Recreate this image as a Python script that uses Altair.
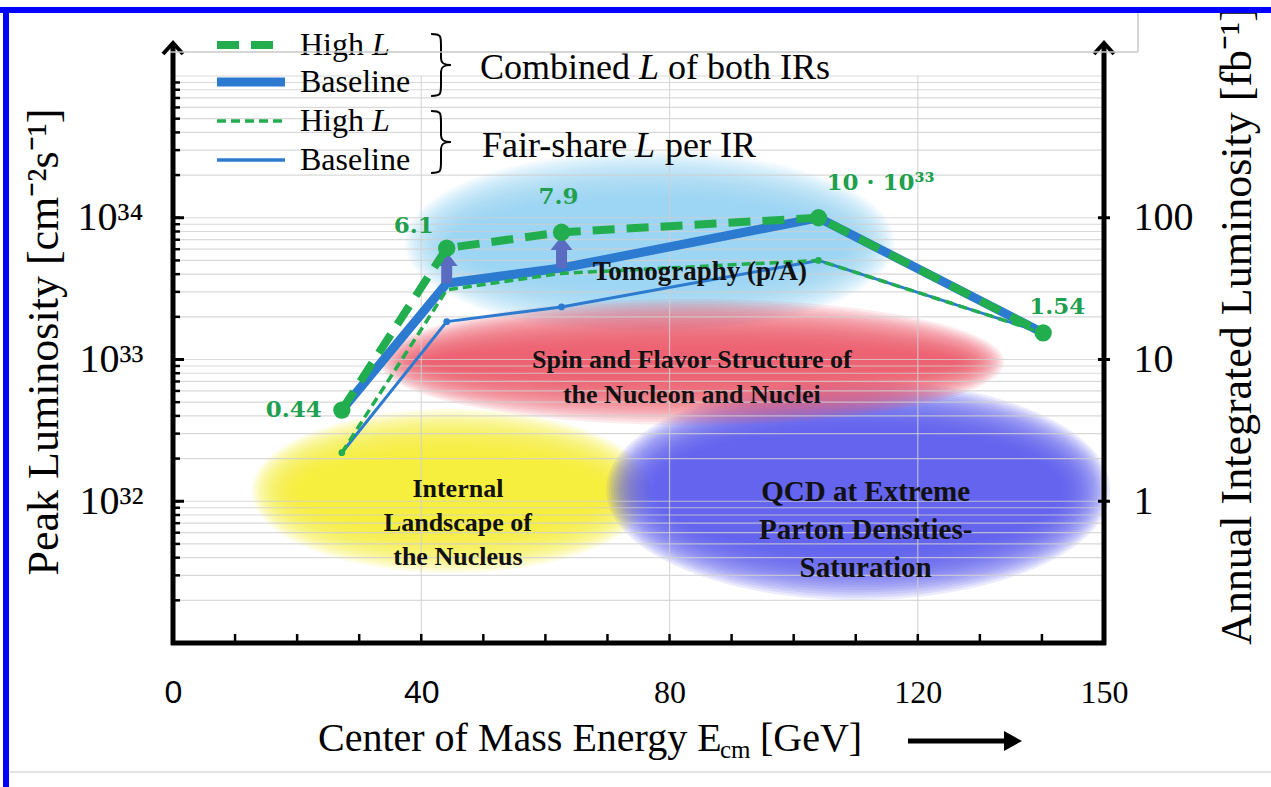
import altair as alt
import pandas as pd

# ---------------- data ----------------
energy = [27.2, 44.1, 62.6, 104.0, 140.2]                 # E_cm [GeV]
high_combined = [0.44e33, 6.1e33, 7.9e33, 10.0e33, 1.54e33]
base_combined = [0.44e33, 3.45e33, 4.42e33, 10.0e33, 1.54e33]
high_per_ir = [2.2e32, 3.1e33, 4.05e33, 5.0e33, 1.54e33]
base_per_ir = [2.2e32, 1.85e33, 2.35e33, 5.0e33, 1.54e33]
point_labels = ["0.44", "6.1", "7.9", "10 · 10³³", "1.54"]
arrow_points = [1, 2]

x_label_values = [0, 40, 80, 120, 150]
x_minor_ticks = [10, 20, 30, 40, 50, 60, 70, 80, 90, 100, 110, 120, 130, 140]
x_grid_values = [40, 80, 120]
y_label_values = [1e32, 1e33, 1e34]
y_grid_values = [k * 10.0 ** d for d in (31, 32, 33, 34) for k in range(2, 10)] + [1e32, 1e33, 1e34, 1e35]
right_label_values = [1, 10, 100]

region_texts = ["Tomography (p/A)",
                "Internal\nLandscape of\nthe Nucleus",
                "QCD at Extreme\nParton Densities-\nSaturation",
                "Spin and Flavor Structure of\nthe Nucleon and Nuclei"]
region_text_x = [84.9, 45.9, 111.6, 83.6]
region_text_y = [4.14e33, 1.22e32, 1.16e32, 9.9e32]

blob_x = [76.8, 44.9, 110.4, 83.6]
blob_y = [6.7e33, 1.18e32, 1.2e32, 9.6e32]

# ---------------- styles ----------------
SERIF = "Liberation Serif"
GREEN = "#22ad4e"
BLUE = "#2c7bd0"
LABEL_GREEN = "#1fa04f"
ARROW = "#5a6cc2"
W, H = 931, 567

ONE = pd.DataFrame({"d": [0]})

XS = alt.Scale(domain=[0, 150], nice=False, zero=False)
YS = alt.Scale(type="log", domain=[1e31, 1e35], nice=False)
xaxis = alt.Axis(values=x_label_values, title=None, grid=False, ticks=False, domain=False,
                 labelFontSize=32, labelPadding=34, labelColor="black", labelFlush=False,
                 labelFont={"condition": {"test": "datum.value <= 40", "value": "Liberation Sans"},
                            "value": SERIF})
yaxis = alt.Axis(values=y_label_values, title=None, grid=False, ticks=False, domain=False,
                 labelFontSize=40, labelFont=SERIF, labelPadding=30, labelColor="black",
                 labelExpr="datum.value < 5e32 ? '10³²' : datum.value < 5e33 ? '10³³' : '10³⁴'")
X = alt.X("x:Q", scale=XS, axis=xaxis)
Y = alt.Y("y:Q", scale=YS, axis=yaxis)

layers = []

# ---------------- soft coloured regions ----------------
blob_style = [  # rx px, ry px, colour, ring opacity
    (245, 92, "#93d6f4", 0.09),
    (200, 82, "#f4f232", 0.12),
    (252, 110, "#5b5cec", 0.12),
    (312, 63, "#ef5c68", 0.115),
]
N_RING, STEP = 20, 2.5
K = 0.5523
rows = []
for i, (bx, by) in enumerate(zip(blob_x, blob_y)):
    rx, ry, col, op = blob_style[i]
    for k in range(N_RING):
        rxk, ryk = rx - k * STEP, ry - k * STEP
        a = ryk / rxk
        path = (f"M-1,0 C-1,{-K*a:.4f} {-K:.4f},{-a:.4f} 0,{-a:.4f} "
                f"C{K:.4f},{-a:.4f} 1,{-K*a:.4f} 1,0 "
                f"C1,{K*a:.4f} {K:.4f},{a:.4f} 0,{a:.4f} "
                f"C{-K:.4f},{a:.4f} -1,{K*a:.4f} -1,0 Z")
        rows.append(dict(x=bx, y=by, size=(2 * rxk) ** 2, shape=path, color=col,
                         op=op, order=i * 100 + k))
blobs = pd.DataFrame(rows)
layers.append(
    alt.Chart(blobs).mark_point(filled=True, strokeWidth=0).encode(
        x=X, y=Y,
        size=alt.Size("size:Q", scale=None),
        shape=alt.Shape("shape:N", scale=None),
        fill=alt.Fill("color:N", scale=None),
        opacity=alt.Opacity("op:Q", scale=None),
        order=alt.Order("order:Q"),
    )
)

# ---------------- grid ----------------
layers.append(alt.Chart(pd.DataFrame({"y": y_grid_values})).mark_rule(
    color="#cfcfcf", strokeWidth=1.2, opacity=0.8).encode(y=Y, x=alt.value(0), x2=alt.value(W)))
layers.append(alt.Chart(pd.DataFrame({"x": x_grid_values})).mark_rule(
    color="#cfcfcf", strokeWidth=1.2, opacity=0.8).encode(x=X, y=alt.value(0), y2=alt.value(H)))


# ---------------- series ----------------
def series(vals, color, width, dash=None):
    kw = dict(color=color, strokeWidth=width, strokeJoin="round", strokeCap="butt")
    if dash:
        kw["strokeDash"] = dash
    return alt.Chart(pd.DataFrame({"x": energy, "y": vals})).mark_line(**kw).encode(x=X, y=Y)


layers.append(series(base_combined, BLUE, 9))
layers.append(series(base_per_ir, BLUE, 3))
layers.append(alt.Chart(pd.DataFrame({"x": energy[1:3], "y": base_per_ir[1:3]})).mark_circle(
    size=45, color=BLUE, opacity=1).encode(x=X, y=Y))
layers.append(series(high_per_ir, GREEN, 3.5, [9, 5]))
layers.append(alt.Chart(pd.DataFrame({"x": [energy[0], energy[3]], "y": [high_per_ir[0], high_per_ir[3]]})).mark_circle(
    size=45, color=GREEN, opacity=1).encode(x=X, y=Y))

# arrows baseline -> high L
arr = pd.DataFrame({"x": [energy[i] for i in arrow_points],
                    "y": [base_combined[i] for i in arrow_points],
                    "y2": [high_combined[i] for i in arrow_points]})
layers.append(alt.Chart(arr).mark_rule(color=ARROW, strokeWidth=11, strokeCap="butt", y2Offset=17).encode(
    x=X, y=Y, y2=alt.Y2("y2:Q")))
arr_head = pd.DataFrame({"x": arr["x"], "y": arr["y2"]})
layers.append(alt.Chart(arr_head).mark_point(
    shape="M0,0 L1,1.25 L-1,1.25 Z", size=484, filled=True, color=ARROW, opacity=1,
    strokeWidth=0, yOffset=4).encode(x=X, y=Y))

layers.append(series(high_combined, GREEN, 8, [22, 12]))
layers.append(alt.Chart(pd.DataFrame({"x": energy, "y": high_combined})).mark_circle(
    size=300, color=GREEN, opacity=1).encode(x=X, y=Y))

# point value labels
label_offsets = [(-20, 0, "right"), (-33, -22, "center"), (-3, -35, "center"),
                 (8, -35, "left"), (14, -26, "center")]
for i, txt in enumerate(point_labels):
    dx, dy, al = label_offsets[i]
    layers.append(alt.Chart(pd.DataFrame({"x": [energy[i]], "y": [high_combined[i]]})).mark_text(
        text=txt, font="DejaVu Serif", fontWeight="bold", fontSize=23, color=LABEL_GREEN,
        dx=dx, dy=dy, align=al, baseline="middle").encode(x=X, y=Y))

# region texts
region_fmt = [(27, 30), (26, 34), (29, 38), (26, 35)]
for i, txt in enumerate(region_texts):
    fs, lh = region_fmt[i]
    layers.append(alt.Chart(pd.DataFrame({"x": [region_text_x[i]], "y": [region_text_y[i]], "t": [txt]})).mark_text(
        font=SERIF, fontWeight="bold", fontSize=fs, lineHeight=lh, lineBreak="\n",
        color="#111111", align="center", baseline="middle").encode(x=X, y=Y, text="t:N"))

# ---------------- axes lines, ticks, arrows ----------------
layers.append(alt.Chart(pd.DataFrame({"y": y_grid_values[:-1]})).mark_rule(
    color="black", strokeWidth=2.5).encode(y=Y, x=alt.value(0), x2=alt.value(7)))
layers.append(alt.Chart(pd.DataFrame({"y": y_label_values})).mark_rule(
    color="black", strokeWidth=3).encode(y=Y, x=alt.value(0), x2=alt.value(11)))
layers.append(alt.Chart(pd.DataFrame({"y": y_label_values})).mark_rule(
    color="black", strokeWidth=3).encode(y=Y, x=alt.value(W - 6), x2=alt.value(W + 6)))
layers.append(alt.Chart(pd.DataFrame({"x": x_minor_ticks})).mark_rule(
    color="black", strokeWidth=2.5).encode(x=X, y=alt.value(H), y2=alt.value(H - 9)))

for ax_x in (0, W):
    layers.append(alt.Chart(ONE).mark_rule(color="black", strokeWidth=5).encode(
        x=alt.value(ax_x), y=alt.value(-31), y2=alt.value(H + 2)))
    layers.append(alt.Chart(ONE).mark_point(
        shape="M-1,1.1 L0,0 L1,1.1", size=400, filled=False, color="black", opacity=1,
        strokeWidth=4, strokeJoin="miter").encode(x=alt.value(ax_x), y=alt.value(-33)))
layers.append(alt.Chart(ONE).mark_rule(color="black", strokeWidth=5).encode(
    x=alt.value(-2), x2=alt.value(W + 2), y=alt.value(H)))

# ---------------- axis titles ----------------
def ptext(txt, x, y, size, align="left", angle=0, style="normal", weight="normal",
          font=SERIF, color="black"):
    return alt.Chart(ONE).mark_text(
        text=txt, fontSize=size, align=align, baseline="middle", angle=angle,
        fontStyle=style, fontWeight=weight, font=font, color=color).encode(
        x=alt.value(x), y=alt.value(y))


layers.append(ptext("Center of Mass Energy E", 145, 663, 40))
layers.append(ptext("cm", 547, 674, 25))
layers.append(ptext("[GeV]", 587, 663, 40))
layers.append(alt.Chart(ONE).mark_rule(color="black", strokeWidth=5).encode(
    x=alt.value(735), x2=alt.value(833), y=alt.value(665)))
layers.append(alt.Chart(ONE).mark_point(
    shape="M0,0 L-1,-0.55 L-1,0.55 Z", size=1296, filled=True, color="black", opacity=1,
    strokeWidth=0).encode(x=alt.value(849), y=alt.value(665)))

layers.append(ptext("Peak Luminosity [cm⁻²s⁻¹]", -128, 266, 44, align="center", angle=270))
layers.append(ptext("Annual Integrated Luminosity [fb⁻¹]", 1065, 569, 44, align="left", angle=270))

# ---------------- legend ----------------
leg_rows = [(-31, GREEN, 8, [22, 12], "High", True),
            (6, BLUE, 9, None, "Baseline", False),
            (45, GREEN, 3.5, [9, 5], "High", True),
            (84, BLUE, 3.5, None, "Baseline", False)]
for y0, col, wd, dash, lab, has_l in leg_rows:
    kw = dict(color=col, strokeWidth=wd, strokeCap="butt")
    if dash:
        kw["strokeDash"] = dash
    layers.append(alt.Chart(ONE).mark_rule(**kw).encode(
        x=alt.value(44), x2=alt.value(112), y=alt.value(y0)))
    layers.append(ptext(lab, 127, y0, 32))
    if has_l:
        layers.append(ptext("L", 199, y0, 32, style="italic"))

BRACE = ("M-0.32,-1 C0,-1 0,-0.95 0,-0.62 L0,-0.22 C0,-0.05 0.1,0 0.32,0 "
         "C0.1,0 0,0.05 0,0.22 L0,0.62 C0,0.95 0,1 -0.32,1")
for yc in (-11, 66):
    layers.append(alt.Chart(ONE).mark_point(
        shape=BRACE, size=3844, filled=False, color="black", opacity=1, strokeWidth=2).encode(
        x=alt.value(268), y=alt.value(yc)))

layers.append(ptext("Combined", 307, -8, 36))
layers.append(ptext("L", 466, -8, 36, style="italic"))
layers.append(ptext("of both IRs", 495, -8, 36))
layers.append(ptext("Fair-share", 309, 70, 36))
layers.append(ptext("L", 462, 70, 36, style="italic"))
layers.append(ptext("per IR", 492, 70, 36))

# ---------------- slide frame ----------------
layers.append(alt.Chart(ONE).mark_rule(color="#c8c8c8", strokeWidth=1.5).encode(
    x=alt.value(-3), x2=alt.value(965), y=alt.value(-24)))
layers.append(alt.Chart(ONE).mark_rule(color="#c8c8c8", strokeWidth=1.5).encode(
    x=alt.value(965), y=alt.value(-64), y2=alt.value(-24)))
layers.append(alt.Chart(ONE).mark_rule(color="#d8d8d8", strokeWidth=1.5).encode(
    x=alt.value(-163), x2=alt.value(1098), y=alt.value(696)))
layers.append(alt.Chart(ONE).mark_rule(color="#0000ff", strokeWidth=6).encode(
    x=alt.value(-173), x2=alt.value(1098), y=alt.value(-66)))
layers.append(alt.Chart(ONE).mark_rule(color="#0000ff", strokeWidth=6).encode(
    x=alt.value(-167), y=alt.value(-69), y2=alt.value(711)))

main = alt.layer(*layers)

right = alt.Chart(pd.DataFrame({"v": right_label_values})).mark_point(opacity=0).encode(
    x=alt.value(W),
    y=alt.Y("v:Q", scale=alt.Scale(type="log", domain=[0.1, 1000], nice=False),
            axis=alt.Axis(orient="right", values=right_label_values, title=None, ticks=False,
                          domain=False, grid=False, labelFontSize=40, labelFont=SERIF,
                          labelPadding=29, labelColor="black", format="~g")))

chart = alt.layer(main, right).resolve_scale(y="independent").properties(
    width=W, height=H,
    padding={"left": 173, "top": 76, "right": 167, "bottom": 144},
    autosize=alt.AutoSizeParams(type="none"),
    background="white",
).configure_view(strokeWidth=0)

chart.save("out.html", embed_options={"renderer": "svg", "actions": False})
